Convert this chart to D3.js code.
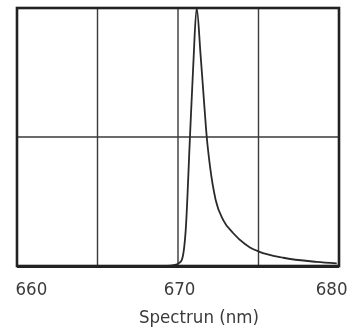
<!DOCTYPE html>
<html><head><meta charset="utf-8">
<script src="https://cdn.jsdelivr.net/npm/d3@7/dist/d3.min.js"></script>
<style>html,body{margin:0;padding:0;background:#fff;}svg{display:block;}</style>
</head><body>
<svg id="c" width="353" height="333"></svg>
<script>
const wavelength = [660, 665, 669.3, 669.81, 670.05, 670.23, 670.48, 670.75, 670.95, 671.16, 671.4, 671.61, 671.78, 671.99, 672.34, 672.81, 673.42, 674.16, 674.47, 675.03, 676.54, 678.61, 679.86];
const intensity  = [0, 0, 0.0, 0.004, 0.011, 0.023, 0.14, 0.51, 0.78, 1.0, 0.82, 0.643, 0.504, 0.385, 0.256, 0.178, 0.128, 0.085, 0.072, 0.056, 0.032, 0.016, 0.010];
const xTicks = [660, 670, 680];
const xGrid = [665, 670, 675];
const yGrid = [0.5];
const xLabel = "Spectrun (nm)";

const FONT = "'Liberation Sans Narrow', 'DejaVu Sans Condensed', 'Roboto Condensed', sans-serif";

const svg = d3.select("#c");
const defs = svg.append("defs");
defs.append("filter").attr("id","blur").append("feGaussianBlur").attr("stdDeviation",0.45);
const g = svg.append("g").attr("filter","url(#blur)");

const x = d3.scaleLinear().domain([660,680]).range([17,339]);
const y = d3.scaleLinear().domain([0,1]).range([266,8]);

// grid
g.selectAll(".vg").data(xGrid).enter().append("line")
  .attr("x1",d=>x(d)).attr("x2",d=>x(d)).attr("y1",y(1)).attr("y2",y(0))
  .attr("stroke","#3a3a3a").attr("stroke-width",1.4);
g.selectAll(".hg").data(yGrid).enter().append("line")
  .attr("x1",x(660)).attr("x2",x(680)).attr("y1",d=>y(d)).attr("y2",d=>y(d))
  .attr("stroke","#3a3a3a").attr("stroke-width",1.4);

// curve
const pts = wavelength.map((w,i)=>[w,intensity[i]]);
g.append("path").datum(pts)
  .attr("d", d3.line().x(d=>x(d[0])).y(d=>y(d[1])).curve(d3.curveMonotoneX))
  .attr("fill","none").attr("stroke","#2a2a2a").attr("stroke-width",1.8);

// frame
g.append("rect").attr("x",x(660)).attr("y",y(1)).attr("width",x(680)-x(660)).attr("height",y(0)-y(1))
  .attr("fill","none").attr("stroke","#222").attr("stroke-width",2.6);
g.append("line").attr("x1",x(660)).attr("x2",x(680)).attr("y1",y(0)+0.5).attr("y2",y(0)+0.5)
  .attr("stroke","#222").attr("stroke-width",3.2);

// axis
const ax = g.append("g").attr("transform",`translate(0,${y(0)})`)
  .call(d3.axisBottom(x).tickValues(xTicks).tickSize(0).tickPadding(0).tickFormat(d3.format("d")));
ax.select(".domain").remove();
ax.selectAll("text")
  .attr("y",29).attr("dy",0)
  .attr("font-family",FONT).attr("font-size",18.5).attr("fill","#3a3a3a")
  .attr("text-anchor",(d,i)=>i===0?"start":(i===xTicks.length-1?"end":"middle"))
  .attr("dx",(d,i)=>i===0?-2:(i===xTicks.length-1?8:1));

g.append("text").attr("x",199).attr("y",323).attr("text-anchor","middle")
  .attr("font-family",FONT).attr("font-size",18.5).attr("fill","#3a3a3a")
  .text(xLabel);
</script>
</body></html>
